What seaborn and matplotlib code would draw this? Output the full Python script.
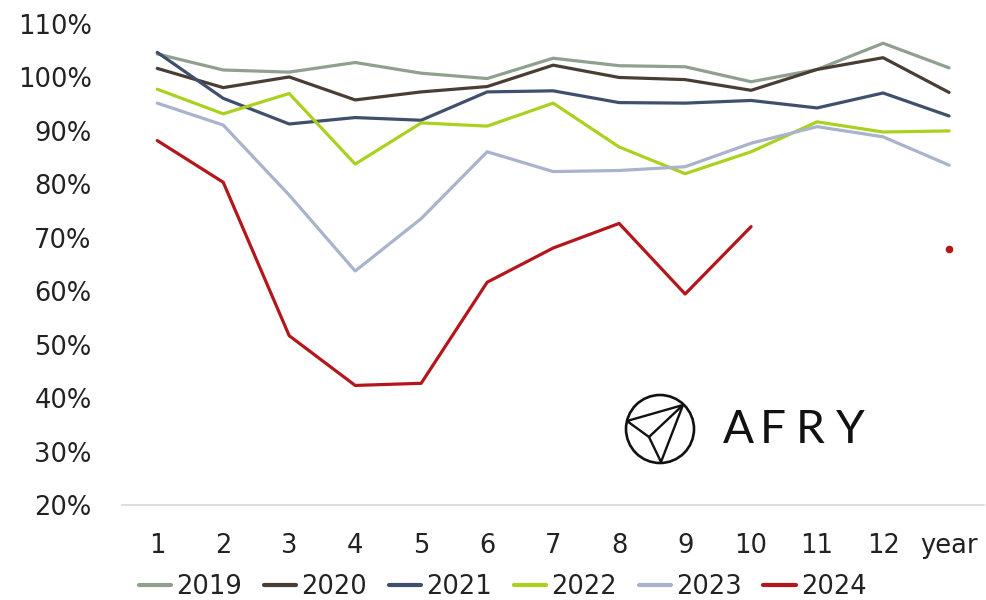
import numpy as np
import pandas as pd
import seaborn as sns
import matplotlib.pyplot as plt
from matplotlib.lines import Line2D
from matplotlib.patches import Circle

# x-axis categories: months plus the annual figure
periods = ["1", "2", "3", "4", "5", "6", "7", "8", "9", "10", "11", "12", "year"]

# monthly values in percent (last entry = whole year)
y2019 = [104.4, 101.4, 101.0, 102.8, 100.8, 99.8, 103.6, 102.2, 102.0, 99.2, 101.5, 106.4, 101.8]
y2020 = [101.7, 98.1, 100.1, 95.8, 97.3, 98.3, 102.3, 100.0, 99.6, 97.6, 101.5, 103.7, 97.2]
y2021 = [104.7, 96.1, 91.3, 92.5, 92.0, 97.3, 97.5, 95.3, 95.2, 95.7, 94.3, 97.1, 92.8]
y2022 = [97.8, 93.2, 97.0, 83.8, 91.5, 90.9, 95.2, 87.0, 82.0, 86.1, 91.7, 89.8, 90.0]
y2023 = [95.2, 91.1, 78.0, 63.8, 73.6, 86.1, 82.4, 82.6, 83.3, 87.7, 90.8, 88.9, 83.6]
y2024 = [88.2, 80.4, 51.7, 42.4, 42.8, 61.7, 68.1, 72.7, 59.5, 72.1, np.nan, np.nan, 67.9]

series_names = ["2019", "2020", "2021", "2022", "2023", "2024"]
series_values = [y2019, y2020, y2021, y2022, y2023, y2024]
colors = ["#8fa08e", "#4a3d33", "#3f4f6c", "#aad11f", "#a9b3cb", "#b3161b"]

sns.set_theme(style="white")
plt.rcParams["font.family"] = ["DejaVu Sans"]

fig = plt.figure(figsize=(9.86, 6.0), dpi=100)
ax = fig.add_axes([0.124, 0.158, 0.874, 0.802])

pos = np.arange(len(periods))
frames = []
for name, vals in zip(series_names, series_values):
    frames.append(pd.DataFrame({"pos": pos, "value": vals, "series": name}))
df = pd.concat(frames, ignore_index=True)

palette = dict(zip(series_names, colors))
monthly = df[df["pos"] < 12].dropna()
annual = df[df["pos"] == 12]

# monthly lines, with each series continuing on to the annual value
for name in series_names:
    sub = df[df["series"] == name]
    full = sub.dropna()
    if len(full) == len(sub):
        sns.lineplot(data=full, x="pos", y="value", color=palette[name],
                     lw=2.3, ax=ax, legend=False, sort=False)
    else:
        m = monthly[monthly["series"] == name]
        sns.lineplot(data=m, x="pos", y="value", color=palette[name],
                     lw=2.3, ax=ax, legend=False, sort=False)
        a = annual[annual["series"] == name]
        sns.scatterplot(data=a, x="pos", y="value", color=palette[name],
                        s=30, linewidth=0, ax=ax, legend=False)

ax.set_xlim(-0.53, 12.53)
ax.set_ylim(20, 110)
ax.set_yticks(np.arange(20, 111, 10))
ax.set_yticklabels([f"{v}%" for v in range(20, 111, 10)])
ax.set_xticks(pos)
ax.set_xticklabels(periods)
ax.set_xlabel("")
ax.set_ylabel("")
ax.tick_params(axis="both", length=0, labelsize=18.5, colors="#222222")
ax.tick_params(axis="x", pad=20)
ax.tick_params(axis="y", pad=22)
for side in ["top", "right", "left"]:
    ax.spines[side].set_visible(False)
ax.spines["bottom"].set_color("#d9d9d9")
ax.spines["bottom"].set_linewidth(1.2)
ax.grid(False)

handles = [Line2D([0], [0], color=c, lw=3) for c in colors]
fig.legend(handles, series_names, loc="center", bbox_to_anchor=(0.51, 0.022),
           ncol=6, frameon=False, fontsize=18.5, handlelength=1.25,
           handletextpad=0.2, columnspacing=0.85, labelcolor="#222222")

# AFRY logo
logo = fig.add_axes([0, 0, 1, 1], facecolor="none")
logo.set_xlim(0, 986)
logo.set_ylim(600, 0)
logo.axis("off")
logo.add_patch(Circle((660, 429), 34, fill=False, lw=1.9, color="#111111"))
vx, vy = 683, 405
lx, ly = 627, 421
px, py = 649, 437
bx, by = 661, 462
logo.plot([lx, vx, px, lx], [ly, vy, py, ly], color="#111111", lw=1.7)
logo.plot([vx, bx, px], [vy, by, py], color="#111111", lw=1.7)
for ch, cx in zip("AFRY", [738, 773, 810, 850]):
    logo.text(cx, 430, ch, ha="center", va="center", fontsize=33,
              family=["Lato", "DejaVu Sans"], fontweight="normal", color="#111111")

fig.savefig("out.png", dpi=100)
